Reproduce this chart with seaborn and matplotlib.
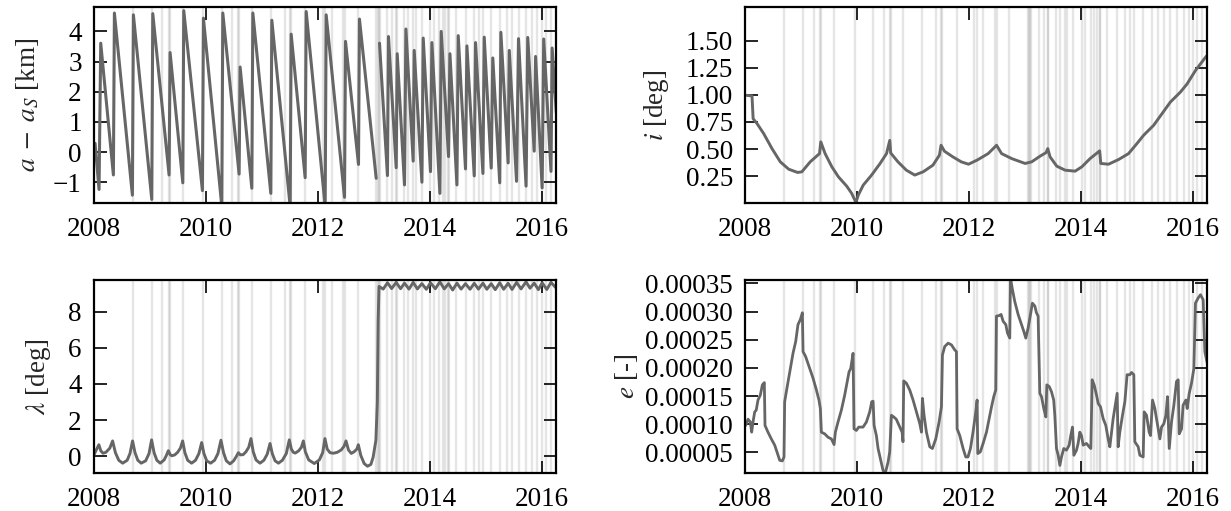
import numpy as np
import pandas as pd
import matplotlib
matplotlib.use('Agg')
import matplotlib.pyplot as plt
import seaborn as sns
from matplotlib.ticker import FormatStrFormatter, ScalarFormatter

# Stil ayarlari
sns.set_theme(style='white')
plt.rcParams['font.family'] = ['Liberation Serif', 'DejaVu Serif']
plt.rcParams['mathtext.fontset'] = 'stix'
plt.rcParams['font.size'] = 19.5
plt.rcParams['axes.linewidth'] = 1.6
plt.rcParams['axes.edgecolor'] = 'black'
plt.rcParams['axes.unicode_minus'] = True

# Manevra tarihleri (ondalik yil)
manevralar = [2008.70, 2009.04, 2009.23, 2009.34, 2009.36, 2009.59, 2009.96, 2010.29, 2010.48,
              2010.58, 2010.60, 2010.82, 2011.16, 2011.41, 2011.50, 2011.52, 2011.78, 2012.09,
              2012.14, 2012.25, 2012.46, 2012.49, 2012.72, 2013.05, 2013.07, 2013.09, 2013.11,
              2013.24, 2013.33, 2013.40, 2013.41, 2013.55, 2013.62, 2013.71, 2013.75, 2013.86,
              2014.01, 2014.07, 2014.17, 2014.23, 2014.28, 2014.33, 2014.34, 2014.47, 2014.64,
              2014.79, 2014.88, 2014.95, 2015.10, 2015.26, 2015.38, 2015.47, 2015.59, 2015.71,
              2015.83, 2015.92, 2016.00, 2016.07, 2016.16]

# a - a_S [km], iki parca (2013 basinda bosluk)
a_t1 = [2008.027, 2008.098, 2008.128, 2008.354, 2008.372, 2008.693, 2008.711, 2009.039, 2009.057,
        2009.348, 2009.366, 2009.593, 2009.610, 2009.943, 2009.961, 2010.289, 2010.307, 2010.598,
        2010.616, 2010.825, 2010.843, 2011.164, 2011.182, 2011.509, 2011.527, 2011.777, 2011.795,
        2012.134, 2012.152, 2012.479, 2012.497, 2012.729, 2012.746, 2013.045]
a_v1 = [0.29, -1.24, 3.61, -0.76, 4.61, -1.43, 4.55, -1.57, 4.59, -0.76, 3.30, -1.02, 4.69, -1.28,
        4.44, -1.80, 4.61, -0.73, 2.82, -1.20, 4.61, -1.37, 4.37, -1.80, 3.91, -0.85, 4.66, -1.80,
        4.55, -1.50, 3.67, -0.41, 4.41, -0.87]
a_t2 = [2013.104, 2013.246, 2013.264, 2013.402, 2013.420, 2013.550, 2013.575, 2013.705, 2013.723,
        2013.861, 2013.884, 2014.014, 2014.039, 2014.182, 2014.205, 2014.336, 2014.361, 2014.486,
        2014.509, 2014.639, 2014.664, 2014.795, 2014.818, 2014.950, 2014.973, 2015.098, 2015.126,
        2015.250, 2015.270, 2015.400, 2015.420, 2015.550, 2015.585, 2015.720, 2015.750, 2015.865,
        2015.890, 2016.007, 2016.035, 2016.165, 2016.185, 2016.260]
a_v2 = [3.61, -0.78, 3.83, -0.52, 3.26, -1.09, 4.08, -0.30, 3.37, -1.00, 3.78, -0.65, 3.63, -1.37,
        4.00, -0.15, 3.26, -1.09, 3.86, -0.56, 3.52, -0.79, 3.63, -0.71, 3.81, -0.53, 3.12, -1.02,
        3.97, -0.36, 3.37, -0.97, 3.76, -1.13, 3.80, 0.03, 3.17, -1.19, 3.75, -0.64, 3.45, 1.30]

# Egim i [deg]
i_t = [2008.03, 2008.125, 2008.145, 2008.216, 2008.334, 2008.482, 2008.63, 2008.78, 2008.94, 2009.015,
       2009.164, 2009.33, 2009.353, 2009.43, 2009.55, 2009.667, 2009.815, 2009.904, 2009.98, 2010.022,
       2010.11, 2010.26, 2010.41, 2010.526, 2010.584, 2010.60, 2010.73, 2010.88, 2011.03, 2011.18,
       2011.354, 2011.47, 2011.50, 2011.56, 2011.71, 2011.86, 2011.99, 2012.15, 2012.34, 2012.43,
       2012.49, 2012.58, 2012.76, 2013.0, 2013.117, 2013.266, 2013.374, 2013.404, 2013.445, 2013.565,
       2013.714, 2013.893, 2014.012, 2014.16, 2014.33, 2014.35, 2014.488, 2014.667, 2014.846, 2014.995,
       2015.115, 2015.294, 2015.443, 2015.592, 2015.771, 2015.89, 2016.04, 2016.22, 2016.26]
i_v = [0.995, 0.99, 0.78, 0.734, 0.642, 0.504, 0.382, 0.314, 0.284, 0.29,
       0.382, 0.458, 0.566, 0.458, 0.336, 0.244, 0.158, 0.091, 0.008, 0.075,
       0.167, 0.26, 0.366, 0.458, 0.58, 0.464, 0.382, 0.305, 0.26, 0.29,
       0.351, 0.443, 0.535, 0.48, 0.428, 0.382, 0.36, 0.40, 0.458, 0.504,
       0.535, 0.458, 0.412, 0.367, 0.382, 0.434, 0.467, 0.504, 0.428, 0.342,
       0.305, 0.296, 0.336, 0.412, 0.483, 0.367, 0.36, 0.403, 0.458, 0.55,
       0.627, 0.719, 0.826, 0.933, 1.025, 1.10, 1.224, 1.347, 1.37]

# Boylam lambda [deg]
l_t = [2008.01, 2008.04, 2008.095, 2008.13, 2008.17, 2008.22, 2008.29, 2008.34, 2008.39, 2008.45,
       2008.52, 2008.60, 2008.65, 2008.696, 2008.74, 2008.79, 2008.85, 2008.93, 2008.99, 2009.036,
       2009.08, 2009.13, 2009.19, 2009.26, 2009.30, 2009.335, 2009.37, 2009.40, 2009.45, 2009.50,
       2009.55, 2009.59, 2009.63, 2009.68, 2009.75, 2009.82, 2009.88, 2009.93, 2009.97, 2010.02,
       2010.09, 2010.16, 2010.22, 2010.274, 2010.32, 2010.37, 2010.435, 2010.50, 2010.55, 2010.585,
       2010.62, 2010.67, 2010.72, 2010.77, 2010.81, 2010.85, 2010.90, 2010.97, 2011.04, 2011.10,
       2011.15, 2011.19, 2011.24, 2011.30, 2011.37, 2011.44, 2011.494, 2011.53, 2011.565, 2011.60,
       2011.66, 2011.71, 2011.745, 2011.78, 2011.84, 2011.94, 2012.03, 2012.09, 2012.13, 2012.17,
       2012.22, 2012.28, 2012.35, 2012.42, 2012.47, 2012.506, 2012.55, 2012.60, 2012.65, 2012.70,
       2012.726, 2012.77, 2012.83, 2012.89, 2012.95, 2012.99, 2013.04, 2013.065, 2013.08, 2013.095,
       2013.17, 2013.246, 2013.32, 2013.402, 2013.48, 2013.55, 2013.63, 2013.705, 2013.78, 2013.861,
       2013.94, 2014.014, 2014.10, 2014.182, 2014.26, 2014.336, 2014.41, 2014.486, 2014.56, 2014.639,
       2014.72, 2014.795, 2014.87, 2014.95, 2015.02, 2015.098, 2015.17, 2015.25, 2015.32, 2015.40,
       2015.47, 2015.55, 2015.63, 2015.72, 2015.79, 2015.865, 2015.94, 2016.007, 2016.09, 2016.165,
       2016.26]
l_v = [0.10, 0.30, 0.64, 0.30, 0.17, 0.22, 0.45, 0.85, 0.20, -0.22,
       -0.38, -0.22, 0.15, 0.85, 0.20, -0.22, -0.38, -0.25, 0.15, 0.91,
       0.20, -0.22, -0.38, -0.20, 0.05, 0.31, 0.08, 0.03, 0.08, 0.22,
       0.45, 0.85, 0.20, -0.22, -0.38, -0.22, 0.15, 0.76, 0.15, -0.25,
       -0.38, -0.22, 0.15, 0.89, 0.20, -0.25, -0.42, -0.25, 0.00, 0.20,
       0.08, 0.09, 0.25, 0.50, 0.98, 0.25, -0.20, -0.38, -0.22, 0.12,
       0.71, 0.15, -0.25, -0.38, -0.22, 0.15, 0.91, 0.40, 0.22, 0.18,
       0.30, 0.50, 0.85, 0.25, -0.20, -0.40, -0.20, 0.20, 0.98, 0.40,
       0.20, 0.17, 0.22, 0.35, 0.55, 0.85, 0.35, 0.16, 0.25, 0.40,
       0.64, 0.05, -0.40, -0.55, -0.45, -0.05, 0.90, 3.00, 7.50, 9.40,
       9.25, 9.60, 9.28, 9.62, 9.27, 9.58, 9.25, 9.62, 9.26, 9.55,
       9.24, 9.60, 9.27, 9.65, 9.26, 9.55, 9.20, 9.58, 9.25, 9.55,
       9.24, 9.57, 9.25, 9.58, 9.24, 9.55, 9.22, 9.60, 9.24, 9.57,
       9.23, 9.62, 9.26, 9.65, 9.30, 9.58, 9.22, 9.60, 9.23, 9.62,
       9.30]

# Eksantrisite e (1e-5 biriminde)
e_t = [2008.012, 2008.054, 2008.095, 2008.119, 2008.143, 2008.173, 2008.2, 2008.232, 2008.274, 2008.31,
       2008.345, 2008.357, 2008.41, 2008.47, 2008.53, 2008.57, 2008.62, 2008.667, 2008.696, 2008.708,
       2008.738, 2008.8, 2008.857, 2008.905, 2008.946, 2008.988, 2009.024, 2009.036, 2009.083, 2009.155,
       2009.214, 2009.274, 2009.32, 2009.345, 2009.363, 2009.423, 2009.482, 2009.542, 2009.59, 2009.613,
       2009.66, 2009.72, 2009.78, 2009.82, 2009.857, 2009.887, 2009.929, 2009.946, 2009.988, 2010.03,
       2010.107, 2010.167, 2010.226, 2010.262, 2010.286, 2010.304, 2010.345, 2010.375, 2010.417, 2010.464,
       2010.506, 2010.554, 2010.583, 2010.613, 2010.655, 2010.70, 2010.762, 2010.804, 2010.82, 2010.833,
       2010.88, 2010.94, 2011.0, 2011.06, 2011.12, 2011.15, 2011.167, 2011.196, 2011.238, 2011.298,
       2011.345, 2011.405, 2011.464, 2011.506, 2011.524, 2011.565, 2011.625, 2011.685, 2011.744, 2011.774,
       2011.786, 2011.833, 2011.893, 2011.94, 2011.98, 2012.024, 2012.07, 2012.119, 2012.143, 2012.155,
       2012.2, 2012.25, 2012.31, 2012.357, 2012.4, 2012.44, 2012.476, 2012.488, 2012.536, 2012.571,
       2012.607, 2012.655, 2012.685, 2012.726, 2012.738, 2012.774, 2012.815, 2012.875, 2012.935, 2012.976,
       2013.012, 2013.054, 2013.095, 2013.13, 2013.173, 2013.202, 2013.232, 2013.262, 2013.292, 2013.333,
       2013.37, 2013.387, 2013.43, 2013.47, 2013.51, 2013.53, 2013.56, 2013.59, 2013.62, 2013.649,
       2013.69, 2013.738, 2013.786, 2013.815, 2013.845, 2013.87, 2013.917, 2013.946, 2013.976, 2014.006,
       2014.036, 2014.095, 2014.143, 2014.173, 2014.196, 2014.232, 2014.274, 2014.304, 2014.345, 2014.393,
       2014.44, 2014.482, 2014.512, 2014.542, 2014.571, 2014.62, 2014.643, 2014.66, 2014.69, 2014.738,
       2014.78, 2014.82, 2014.869, 2014.899, 2014.94, 2014.958, 2015.018, 2015.048, 2015.107, 2015.125,
       2015.167, 2015.214, 2015.238, 2015.274, 2015.315, 2015.345, 2015.375, 2015.405, 2015.435, 2015.476,
       2015.512, 2015.542, 2015.572, 2015.613, 2015.655, 2015.702, 2015.732, 2015.75, 2015.792, 2015.82,
       2015.869, 2015.893, 2015.929, 2015.97, 2016.012, 2016.04, 2016.087, 2016.13, 2016.178, 2016.208,
       2016.238, 2016.26]
e_v = [9.8, 10.9, 10.4, 8.6, 10.4, 12.2, 12.5, 14.3, 15.2, 17.0,
       17.4, 9.8, 8.6, 7.4, 6.3, 5.1, 3.6, 3.5, 4.2, 14.0,
       15.8, 19.3, 22.6, 24.7, 27.7, 28.6, 29.8, 22.9, 22.0, 19.9,
       18.2, 16.1, 14.3, 12.8, 8.6, 8.3, 7.7, 7.4, 6.4, 8.6,
       10.4, 12.5, 15.2, 17.3, 19.3, 19.9, 22.6, 9.2, 8.9, 9.5,
       9.5, 10.4, 12.2, 14.0, 14.1, 9.8, 8.0, 5.7, 3.9, 1.8,
       1.4, 3.3, 5.1, 11.6, 11.3, 10.9, 9.5, 8.6, 6.9, 17.7,
       17.3, 16.1, 14.3, 12.2, 10.1, 8.6, 14.6, 11.6, 8.6, 6.0,
       5.7, 7.4, 10.4, 13.1, 22.3, 23.8, 24.4, 24.1, 23.2, 22.9,
       9.2, 8.0, 5.7, 4.2, 4.2, 5.7, 8.6, 12.2, 14.3, 4.8,
       5.1, 6.6, 8.6, 11.0, 13.1, 14.9, 16.1, 29.2, 29.3, 29.5,
       28.3, 27.7, 26.2, 25.3, 36.0, 33.9, 31.8, 29.5, 27.7, 26.5,
       25.3, 27.1, 29.5, 31.5, 31.0, 29.8, 29.2, 15.5, 14.9, 12.8,
       11.3, 17.0, 16.7, 15.8, 14.3, 11.6, 5.7, 4.5, 2.7, 4.2,
       5.7, 5.4, 6.3, 8.0, 9.5, 4.5, 5.4, 6.6, 8.6, 8.0,
       6.3, 6.6, 6.0, 5.7, 17.9, 17.0, 15.2, 13.7, 13.1, 11.0,
       9.8, 7.4, 6.0, 8.6, 11.0, 14.0, 15.5, 6.0, 8.6, 11.6,
       14.0, 18.8, 18.8, 19.2, 18.8, 6.9, 6.0, 4.5, 4.2, 12.2,
       11.6, 8.6, 8.0, 14.3, 12.8, 11.0, 9.2, 7.4, 9.5, 10.1,
       11.6, 14.9, 5.7, 10.4, 13.4, 17.6, 17.9, 8.3, 9.2, 13.4,
       14.3, 12.8, 15.5, 17.3, 19.9, 31.5, 32.4, 33.0, 32.1, 22.9,
       21.4, 20.5]

cizgi_rengi = '#666666'

df_a = pd.DataFrame({'t': a_t1 + a_t2, 'v': a_v1 + a_v2,
                     'parca': [0] * len(a_t1) + [1] * len(a_t2)})
df_i = pd.DataFrame({'t': i_t, 'v': i_v})
df_l = pd.DataFrame({'t': l_t, 'v': l_v})
df_e = pd.DataFrame({'t': e_t, 'v': np.array(e_v) * 1e-5})

fig = plt.figure(figsize=(12.31, 5.11), dpi=100)
ax_a = fig.add_axes([0.0760, 0.6033, 0.3757, 0.3830])
ax_i = fig.add_axes([0.6052, 0.6033, 0.3757, 0.3830])
ax_l = fig.add_axes([0.0760, 0.0738, 0.3757, 0.3792])
ax_e = fig.add_axes([0.6052, 0.0738, 0.3757, 0.3792])

sns.lineplot(data=df_a, x='t', y='v', units='parca', estimator=None, sort=False,
             color=cizgi_rengi, lw=2.2, ax=ax_a)
sns.lineplot(data=df_i, x='t', y='v', estimator=None, sort=False, color=cizgi_rengi, lw=2.1, ax=ax_i)
sns.lineplot(data=df_l, x='t', y='v', estimator=None, sort=False, color=cizgi_rengi, lw=2.1, ax=ax_l)
sns.lineplot(data=df_e, x='t', y='v', estimator=None, sort=False, color=cizgi_rengi, lw=2.0, ax=ax_e)

# (eksen, etiket, y sinirlari, y tikleri, bicim, etiket boslugu)
ayarlar = [
    (ax_a, r'$a\;-\;a_S$ [km]', (-1.68, 4.81), [-1, 0, 1, 2, 3, 4], None, 9),
    (ax_i, r'$i$ [deg]', (0.005, 1.81), [0.25, 0.5, 0.75, 1.0, 1.25, 1.5], '%.2f', 11),
    (ax_l, r'$\lambda$ [deg]', (-0.94, 9.78), [0, 2, 4, 6, 8], None, 11),
    (ax_e, r'$e$ [-]', (1.3e-5, 3.57e-4), [5e-5, 1e-4, 1.5e-4, 2e-4, 2.5e-4, 3e-4, 3.5e-4], '%.5f', 4),
]

for ax, etiket, ylim, yticks, fmt, lpad in ayarlar:
    for m in manevralar:
        ax.axvline(m, color='#808080', alpha=0.2, lw=1.7, zorder=0)
    ax.set_xlim(2008.0, 2016.255)
    ax.set_ylim(*ylim)
    ax.set_xticks([2008, 2010, 2012, 2014, 2016])
    ax.set_yticks(yticks)
    ax.xaxis.set_major_formatter(FormatStrFormatter('%d'))
    if fmt is None:
        ax.yaxis.set_major_formatter(ScalarFormatter())
    else:
        ax.yaxis.set_major_formatter(FormatStrFormatter(fmt))
    ax.set_xlabel('')
    ax.set_ylabel(etiket, fontsize=19.5, labelpad=lpad)
    ax.tick_params(direction='in', length=9, width=1.2, top=True, right=True,
                   bottom=True, left=True, labelsize=19.5, colors='black')
    ax.tick_params(axis='x', pad=10)
    ax.tick_params(axis='y', pad=8.5)
    for s in ax.spines.values():
        s.set_linewidth(1.6)
        s.set_color('black')

fig.savefig('out.png', dpi=100)
